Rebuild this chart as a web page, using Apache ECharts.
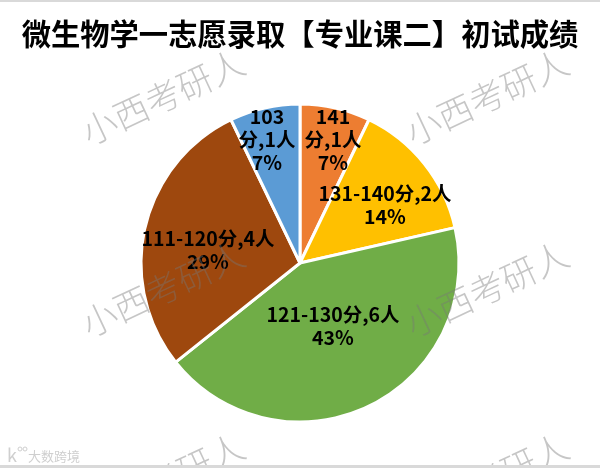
<!DOCTYPE html>
<html>
<head>
<meta charset="utf-8">
<style>html,body{margin:0;padding:0;background:#fff}#c{width:600px;height:468px}</style>
<script src="https://cdn.jsdelivr.net/npm/echarts@6/dist/echarts.min.js"></script>
</head>
<body>
<div id="c"></div>
<script>
const titleText = '微生物学一志愿录取【专业课二】初试成绩';
const categories = ['141分', '131-140分', '121-130分', '111-120分', '103分'];
const counts = [1, 2, 6, 4, 1];
const colors = ['#ED7D31', '#FFC000', '#70AD47', '#9E480E', '#5B9BD5'];
const watermark = '小西考研人';
const brand = '大数跨境';
const labelAnchors = [[333, 140], [385, 205], [333, 326], [208, 250], [267, 140]];
const wmAnchors = [[163, 97], [487, 97], [163, 289], [487, 289], [163, 481], [487, 481]];
const font = '"Noto Sans CJK SC","Noto Sans",sans-serif';

const chart = echarts.init(document.getElementById('c'), null, {renderer: 'canvas'});
chart.setOption({
  animation: false,
  backgroundColor: '#fff',
  title: {
    text: titleText, left: 'center', top: 14,
    textStyle: {fontFamily: font, fontSize: 29.3, fontWeight: 'bold', color: '#000'}
  },
  series: [{
    type: 'pie',
    center: [300, 263],
    radius: [0, 159],
    startAngle: 90,
    clockwise: true,
    percentPrecision: 0,
    silent: true,
    itemStyle: {borderColor: '#fff', borderWidth: 3},
    labelLine: {show: false},
    label: {
      show: true, position: 'inside', color: '#000',
      fontFamily: font, fontSize: 19.5, fontWeight: 600, lineHeight: 23,
      formatter: p => {
        const head = p.name.includes('-') ? p.name + ',' + p.value + '人'
          : p.name.replace('分', '') + '\n分,' + p.value + '人';
        return head + '\n' + p.percent + '%';
      }
    },
    labelLayout: p => ({
      x: labelAnchors[p.dataIndex][0], y: labelAnchors[p.dataIndex][1],
      align: 'center', verticalAlign: 'middle', hideOverlap: false
    }),
    data: categories.map((n, i) => ({name: n, value: counts[i], itemStyle: {color: colors[i]}}))
  }],
  graphic: [
    {type: 'rect', shape: {x: 0, y: 0, width: 600, height: 2}, style: {fill: '#d9d9d9'}, z: 200},
    {type: 'rect', shape: {x: 0, y: 465, width: 600, height: 3}, style: {fill: '#d9d9d9'}, z: 200},
    ...wmAnchors.map(a => ({
      type: 'text', x: a[0], y: a[1], rotation: 25 * Math.PI / 180, z: 100,
      style: {
        text: watermark, fontFamily: font, fontSize: 35, fontWeight: 300,
        fill: 'rgba(120,120,120,0.42)', align: 'center', verticalAlign: 'middle'
      }
    })),
    {type: 'text', x: 28, y: 456, z: 100, style: {
      text: brand, fontFamily: font, fontSize: 13, fill: '#cfcfcf', align: 'left', verticalAlign: 'middle'}},
    {type: 'text', x: 7, y: 455, z: 100, style: {
      text: 'k', fontFamily: font, fontSize: 18, fill: '#cfcfcf', align: 'left', verticalAlign: 'middle'}},
    {type: 'circle', shape: {cx: 20, cy: 449, r: 2}, style: {fill: 'none', stroke: '#cfcfcf'}, z: 100},
    {type: 'circle', shape: {cx: 25, cy: 449, r: 2}, style: {fill: 'none', stroke: '#cfcfcf'}, z: 100}
  ]
});
</script>
</body>
</html>
